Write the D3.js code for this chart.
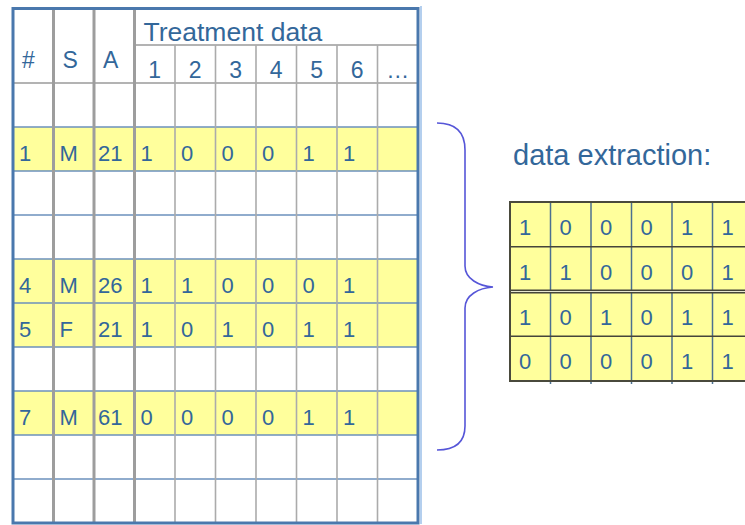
<!DOCTYPE html>
<html>
<head>
<meta charset="utf-8">
<script src="https://cdn.jsdelivr.net/npm/d3@7"></script>
<style>
  body { margin: 0; background: white; }
  svg { display: block; font-family: "Liberation Sans", Arial, sans-serif; }
</style>
</head>
<body>
<svg id="chart"></svg>
<script>
var chartWidth = 745;
var chartHeight = 525;

/********
 * Data *
 ********/

var headerLabels = ["#", "S", "A"];
var groupTitle = "Treatment data";
var treatmentLabels = ["1", "2", "3", "4", "5", "6", "\u2026"];
var rowCount = 10;

// rows of the sheet that hold a patient
var patientRows = [1, 4, 5, 7];
var patientIds = ["1", "4", "5", "7"];
var patientSex = ["M", "M", "F", "M"];
var patientAge = [21, 26, 21, 61];
var treatments = [
  [1, 0, 0, 0, 1, 1],
  [1, 1, 0, 0, 0, 1],
  [1, 0, 1, 0, 1, 1],
  [0, 0, 0, 0, 1, 1]
];
var extractTitle = "data extraction:";

var textColor = "#33679a";
var yellow = "#ffff9c";

/**********
 * Scales *
 **********/

var columns = headerLabels.concat(treatmentLabels.map(function(d, i){ return "t" + i; }));

var x = d3.scaleBand()
    .domain(columns)
    .range([13, 418]);

var y = d3.scaleBand()
    .domain(d3.range(rowCount))
    .range([83, 523]);

// header rows
var hy = d3.scaleBand()
    .domain(["title", "num"])
    .range([7, 83])
    .paddingInner(0);

var x2 = d3.scaleBand()
    .domain(d3.range(6))
    .range([510, 753]);

var y2 = d3.scaleBand()
    .domain(d3.range(treatments.length))
    .range([202, 381]);

/**************
 * Make Chart *
 **************/

var svg = d3.select("#chart")
    .attr("width", chartWidth)
    .attr("height", chartHeight);

svg.append("rect")
    .attr("width", chartWidth)
    .attr("height", chartHeight)
    .attr("fill", "white");

var left = svg.append("g");

// highlighted patient rows
left.selectAll("rect.hl")
    .data(patientRows)
    .enter().append("rect")
    .attr("class", "hl")
    .attr("x", x.range()[0])
    .attr("y", function(d){ return y(d); })
    .attr("width", x.range()[1] - x.range()[0])
    .attr("height", y.bandwidth())
    .attr("fill", yellow);

// horizontal row lines
left.selectAll("line.row")
    .data(d3.range(1, rowCount))
    .enter().append("line")
    .attr("class", "row")
    .attr("x1", x.range()[0])
    .attr("x2", x.range()[1])
    .attr("y1", function(d){ return y(d); })
    .attr("y2", function(d){ return y(d); })
    .attr("stroke", "#6b90bd")
    .attr("stroke-width", 1.3);

// header lines
left.append("line")
    .attr("x1", x.range()[0])
    .attr("x2", x.range()[1])
    .attr("y1", y.range()[0])
    .attr("y2", y.range()[0])
    .attr("stroke", "#9a9a9a")
    .attr("stroke-width", 1.5);

left.append("line")
    .attr("x1", x("t0"))
    .attr("x2", x.range()[1])
    .attr("y1", hy("num"))
    .attr("y2", hy("num"))
    .attr("stroke", "#9a9a9a")
    .attr("stroke-width", 1.5);

// vertical lines
left.selectAll("line.col")
    .data(columns.slice(1))
    .enter().append("line")
    .attr("class", "col")
    .attr("x1", function(d){ return x(d); })
    .attr("x2", function(d){ return x(d); })
    .attr("y1", function(d, i){ return i < 3 ? 7 : hy("num"); })
    .attr("y2", y.range()[1])
    .attr("stroke", function(d, i){ return i < 3 ? "#9d9d9d" : "#ababab"; })
    .attr("stroke-width", function(d, i){ return i < 3 ? 3 : 1.6; });

// outer border
left.append("line")
    .attr("x1", x.range()[1] + 3)
    .attr("x2", x.range()[1] + 3)
    .attr("y1", 6)
    .attr("y2", 524)
    .attr("stroke", "#b4cfee")
    .attr("stroke-width", 2);

left.append("rect")
    .attr("x", x.range()[0])
    .attr("y", 8.5)
    .attr("width", x.range()[1] - x.range()[0])
    .attr("height", y.range()[1] - 8.5)
    .attr("fill", "none")
    .attr("stroke", "#4a78ad")
    .attr("stroke-width", 3);

// header text
left.selectAll("text.head")
    .data(headerLabels)
    .enter().append("text")
    .attr("class", "head")
    .attr("x", function(d){ return x(d) + 9; })
    .attr("y", 68)
    .attr("font-size", "23px")
    .attr("fill", textColor)
    .text(function(d){ return d; });

left.append("text")
    .attr("x", x("t0") + 9)
    .attr("y", hy("title") + hy.bandwidth() - 4)
    .attr("font-size", "26.5px")
    .attr("fill", textColor)
    .text(groupTitle);

left.selectAll("text.tnum")
    .data(treatmentLabels)
    .enter().append("text")
    .attr("class", "tnum")
    .attr("x", function(d, i){ return x("t" + i) + x.bandwidth() / 2; })
    .attr("y", hy("num") + hy.bandwidth() - 5)
    .attr("text-anchor", "middle")
    .attr("font-size", "23px")
    .attr("fill", textColor)
    .text(function(d){ return d; });

// patient cells
var cells = [];
patientRows.forEach(function(r, i){
  var vals = [patientIds[i], patientSex[i], patientAge[i]].concat(treatments[i]);
  vals.forEach(function(v, j){
    cells.push({row: r, col: columns[j], value: v});
  });
});

left.selectAll("text.cell")
    .data(cells)
    .enter().append("text")
    .attr("class", "cell")
    .attr("x", function(d){ return x(d.col) + (d.col === "A" ? 4 : 6); })
    .attr("y", function(d){ return y(d.row) + y.bandwidth() * 0.77; })
    .attr("font-size", "22px")
    .attr("fill", textColor)
    .text(function(d){ return d.value; });

/*********
 * Brace *
 *********/

var braceX = 465, tipX = 493;
var braceTop = y(1) - 4;
var braceBottom = y(7) + y.bandwidth() + 15;
var braceMid = y(5) - 16;
var p = d3.path();
p.moveTo(braceX - 28, braceTop);
p.quadraticCurveTo(braceX, braceTop, braceX, braceTop + 27);
p.lineTo(braceX, braceMid - 21);
p.bezierCurveTo(braceX, braceMid - 8, braceX + 14, braceMid - 1, tipX, braceMid);
p.bezierCurveTo(braceX + 14, braceMid + 1, braceX, braceMid + 8, braceX, braceMid + 21);
p.lineTo(braceX, braceBottom - 24);
p.quadraticCurveTo(braceX, braceBottom, braceX - 28, braceBottom);

svg.append("path")
    .attr("d", p.toString())
    .attr("fill", "none")
    .attr("stroke", "#5656d8")
    .attr("stroke-width", 1.6);

/*****************
 * Extract table *
 *****************/

svg.append("text")
    .attr("x", 513)
    .attr("y", 165)
    .attr("font-size", "29px")
    .attr("fill", textColor)
    .text(extractTitle);

var right = svg.append("g");

right.append("rect")
    .attr("x", x2.range()[0])
    .attr("y", y2.range()[0])
    .attr("width", x2.range()[1] - x2.range()[0])
    .attr("height", y2.range()[1] - y2.range()[0])
    .attr("fill", yellow);

right.selectAll("line.vcol")
    .data(d3.range(1, 6))
    .enter().append("line")
    .attr("class", "vcol")
    .attr("x1", function(d){ return x2(d); })
    .attr("x2", function(d){ return x2(d); })
    .attr("y1", y2.range()[0])
    .attr("y2", y2.range()[1] + 3)
    .attr("stroke", "#4c7090")
    .attr("stroke-width", 1.5);

right.selectAll("line.hrow")
    .data(d3.range(1, treatments.length))
    .enter().append("line")
    .attr("class", "hrow")
    .attr("x1", x2.range()[0])
    .attr("x2", x2.range()[1])
    .attr("y1", function(d){ return y2(d); })
    .attr("y2", function(d){ return y2(d); })
    .attr("stroke", "#45453a")
    .attr("stroke-width", function(d){ return d === 2 ? 4 : 1.5; });

// double rule between the two pairs
right.append("line")
    .attr("x1", x2.range()[0])
    .attr("x2", x2.range()[1])
    .attr("y1", y2(2))
    .attr("y2", y2(2))
    .attr("stroke", "#e8e8d0")
    .attr("stroke-width", 1);

right.append("rect")
    .attr("x", x2.range()[0])
    .attr("y", y2.range()[0])
    .attr("width", x2.range()[1] - x2.range()[0])
    .attr("height", y2.range()[1] - y2.range()[0])
    .attr("fill", "none")
    .attr("stroke", "#4a4a3c")
    .attr("stroke-width", 2);

var cells2 = [];
treatments.forEach(function(row, i){
  row.forEach(function(v, j){ cells2.push({row: i, col: j, value: v}); });
});

right.selectAll("text.cell2")
    .data(cells2)
    .enter().append("text")
    .attr("class", "cell2")
    .attr("x", function(d){ return x2(d.col) + 9; })
    .attr("y", function(d){ return y2(d.row) + 33; })
    .attr("font-size", "22px")
    .attr("fill", textColor)
    .text(function(d){ return d.value; });
</script>
</body>
</html>
